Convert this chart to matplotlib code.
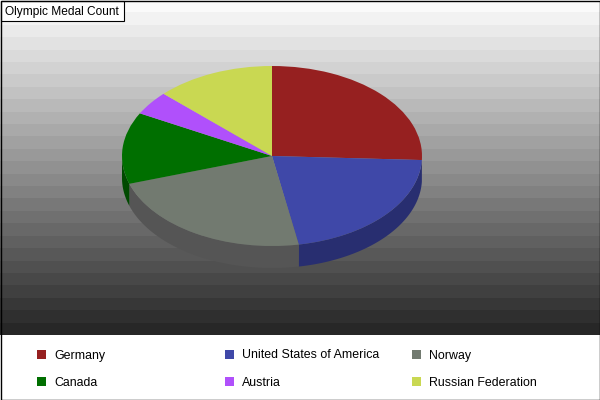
import matplotlib
matplotlib.use('Agg')
import matplotlib.pyplot as plt
from matplotlib.patches import Rectangle
import numpy as np

countries = ['Germany', 'United States of America', 'Norway', 'Canada', 'Austria', 'Russian Federation']
medals = [36, 30, 32, 18, 6, 18]
colors = ['#962020', '#3f48a8', '#727a70', '#006f00', '#b050fb', '#c9d852']
side_colors = ['#641515', '#282e70', '#555555', '#004a00', '#753aa8', '#868f36']

W, H = 600, 400
plt.rcParams['font.family'] = ['Liberation Sans', 'DejaVu Sans']
fig = plt.figure(figsize=(6, 4), dpi=100)

# whole figure in pixel coordinates, for background, title box and legend
bg = fig.add_axes([0, 0, 1, 1])
bg.set_xlim(0, W)
bg.set_ylim(H, 0)
bg.axis('off')

# banded grey background
bands = np.linspace(0.98, 0.155, 27).reshape(-1, 1)
bg.imshow(bands, cmap='gray', vmin=0, vmax=1, extent=(0, W, 335, 0), aspect='auto', interpolation='nearest')
bg.set_xlim(0, W)
bg.set_ylim(H, 0)

# pie, stretched to an ellipse
ax = fig.add_axes([122 / W, 1 - 246 / H, 300 / W, 180 / H])
ax.patch.set_alpha(0)
depth = 22 / 90

fractions = np.array(medals) / sum(medals)
edges = np.concatenate([[0], np.cumsum(fractions)]) * 2 * np.pi
for i in range(len(medals)):
    # only the part of the rim that faces the viewer
    a0 = max(edges[i], np.pi / 2)
    a1 = min(edges[i + 1], 3 * np.pi / 2)
    if a1 <= a0:
        continue
    t = np.linspace(a0, a1, 60)
    x = np.sin(t)
    y = np.cos(t)
    ax.fill(np.concatenate([x, x[::-1]]), np.concatenate([y, y[::-1] - depth]),
            color=side_colors[i], lw=0, clip_on=False)

ax.pie(medals, colors=colors, startangle=90, counterclock=False, radius=1,
       wedgeprops={'linewidth': 0})
ax.set_aspect('auto')
ax.set_xlim(-1, 1)
ax.set_ylim(-1, 1)
for p in ax.patches:
    p.set_clip_on(False)

# title box
bg.add_patch(Rectangle((0.5, 0.5), 123, 20, fc='white', ec='black', lw=0.8, zorder=5))
bg.text(5, 11.5, 'Olympic Medal Count', fontsize=8.6, va='center', ha='left', zorder=6)

# legend
bg.add_patch(Rectangle((0, 335), W, 65, fc='white', ec='none', zorder=3))
col_x = [37, 225, 412]
row_y = [350, 377]
for i, name in enumerate(countries):
    lx = col_x[i % 3]
    ly = row_y[i // 3]
    bg.add_patch(Rectangle((lx, ly), 9, 9, fc=colors[i], ec='none', zorder=4))
    bg.text(lx + 17, ly + 5.5, name, fontsize=8.9, va='center', ha='left', zorder=4)

# outer frame
bg.add_patch(Rectangle((0.5, 0.5), W - 1, H - 1, fc='none', ec='black', lw=1.0, zorder=7, clip_on=False))

fig.savefig('out.png', dpi=100)
